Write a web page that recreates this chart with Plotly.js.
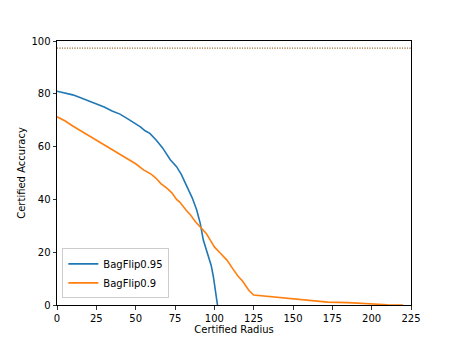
<!DOCTYPE html>
<html>
<head>
<meta charset="utf-8">
<script src="https://cdn.plot.ly/plotly-3.0.1.min.js"></script>
<style>
  html, body { margin: 0; padding: 0; background: #fff; }
  #chart { width: 457px; height: 343px; }
</style>
</head>
<body>
<div id="chart"></div>
<script>
// values
const radius95 = [0, 5, 10, 15, 20, 25, 30, 35, 40, 45, 50, 53, 56, 59, 63, 67, 72, 76, 79, 81, 83, 86, 88.8, 91, 93, 96, 98, 99.4, 100.5, 101.5, 102];
const acc95 = [81, 80.3, 79.6, 78.5, 77.3, 76.3, 75, 73.5, 72.3, 70.5, 68.6, 67.5, 66, 65, 62.5, 59.6, 55, 52.4, 49.5, 47, 44, 40.5, 36, 31, 24.6, 18.3, 15, 10.7, 6, 0.7, 0];

const radius90 = [0, 5, 10, 15, 20, 25, 30, 35, 40, 45, 50, 55, 60, 63, 66, 70, 73, 76, 78, 82, 85, 88, 92, 95, 98, 100, 104, 108, 112, 115, 118, 120, 122, 125, 150, 160, 172, 185, 200, 210, 220];
const acc90 = [71.3, 69.8, 67.8, 66, 64.2, 62.5, 60.7, 59, 57.3, 55.5, 53.5, 51.2, 49.5, 48, 46, 44.2, 42.5, 40, 39, 36, 34, 31.5, 29, 27, 24, 22, 19.5, 17, 13.5, 11, 9, 7, 5.5, 3.8, 2.4, 1.8, 1.1, 0.9, 0.3, 0.1, 0];

const baselineX = [0, 225];
const baseline95 = [97.3, 97.3];
const baseline90 = [97.3, 97.3];

const blue = '#1f77b4';
const orange = '#ff7f0e';

const traces = [
    { x: baselineX, y: baseline95, type: 'scatter', mode: 'lines', showlegend: false,
      line: { color: blue, width: 1, dash: '1px,1.5px' }, hoverinfo: 'skip' },
    { x: baselineX, y: baseline90, type: 'scatter', mode: 'lines', showlegend: false,
      line: { color: orange, width: 1, dash: '1px,1.5px' }, hoverinfo: 'skip' },
    { name: 'BagFlip0.95', x: radius95, y: acc95, type: 'scatter', mode: 'lines',
      line: { color: blue, width: 1.6 } },
    { name: 'BagFlip0.9', x: radius90, y: acc90, type: 'scatter', mode: 'lines',
      line: { color: orange, width: 1.6 } }
];

const axisCommon = {
    showgrid: false,
    zeroline: false,
    showline: true,
    linecolor: '#000',
    linewidth: 1,
    mirror: true,
    ticks: 'outside',
    ticklen: 3.5,
    tickwidth: 0.8,
    tickcolor: '#000',
    tickfont: { family: 'DejaVu Sans', size: 10, color: '#000' }
};

const layout = {
    width: 457,
    height: 343,
    paper_bgcolor: '#fff',
    plot_bgcolor: '#fff',
    margin: { l: 57, r: 46, t: 41, b: 38 },
    font: { family: 'DejaVu Sans', size: 10, color: '#000' },
    xaxis: Object.assign({}, axisCommon, {
        range: [0, 225],
        tickvals: [0, 25, 50, 75, 100, 125, 150, 175, 200, 225],
        title: { text: 'Certified Radius', font: { size: 10 }, standoff: 1 }
    }),
    yaxis: Object.assign({}, axisCommon, {
        range: [0, 100],
        tickvals: [0, 20, 40, 60, 80, 100],
        title: { text: 'Certified Accuracy', font: { size: 10 }, standoff: 3 }
    }),
    legend: {
        x: 0.015, y: 0.025, xanchor: 'left', yanchor: 'bottom',
        bgcolor: 'rgba(255,255,255,0.8)',
        bordercolor: '#ccc', borderwidth: 1,
        font: { family: 'DejaVu Sans', size: 10 },
        itemwidth: 30,
        tracegroupgap: 0
    },
    showlegend: true
};

Plotly.newPlot('chart', traces, layout, { staticPlot: true, displayModeBar: false });
</script>
</body>
</html>
